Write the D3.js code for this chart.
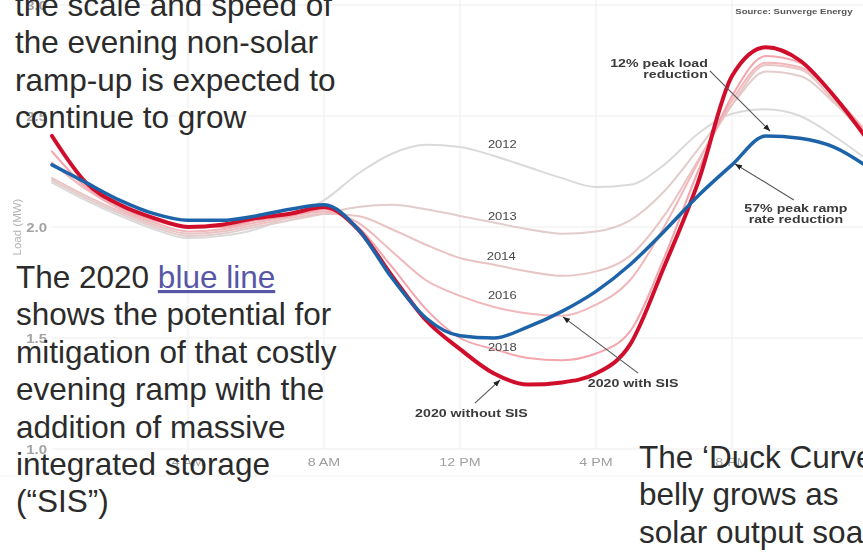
<!DOCTYPE html>
<html>
<head>
<meta charset="utf-8">
<script src="https://cdn.jsdelivr.net/npm/d3@7"></script>
<style>
  html, body { margin: 0; padding: 0; background: #fff; overflow: hidden; }
  svg { display: block; }
</style>
</head>
<body>
<svg id="chart" width="863" height="553"></svg>
<script>
// Hourly net load (MW), midnight to midnight
const hours = d3.range(0, 25);
const load2012 = [2.20, 2.12, 2.05, 1.99, 1.95, 1.96, 1.99, 2.05, 2.12, 2.24, 2.33, 2.37, 2.36, 2.32, 2.27, 2.22, 2.18, 2.19, 2.28, 2.42, 2.51, 2.53, 2.50, 2.41, 2.30];
const load2013 = [2.21, 2.13, 2.06, 2.00, 1.96, 1.97, 2.00, 2.03, 2.06, 2.09, 2.10, 2.08, 2.05, 2.02, 1.99, 1.97, 1.98, 2.03, 2.16, 2.35, 2.55, 2.70, 2.68, 2.56, 2.40];
const load2014 = [2.22, 2.14, 2.07, 2.01, 1.97, 1.98, 2.01, 2.04, 2.06, 2.05, 1.99, 1.92, 1.86, 1.83, 1.80, 1.78, 1.80, 1.87, 2.05, 2.30, 2.55, 2.73, 2.71, 2.57, 2.41];
const load2016 = [2.29, 2.17, 2.08, 2.02, 1.98, 1.99, 2.02, 2.05, 2.07, 2.02, 1.89, 1.76, 1.69, 1.64, 1.61, 1.60, 1.65, 1.76, 2.00, 2.29, 2.57, 2.74, 2.72, 2.59, 2.42];
const load2018 = [2.34, 2.18, 2.09, 2.03, 2.00, 2.00, 2.03, 2.05, 2.08, 2.00, 1.82, 1.63, 1.50, 1.45, 1.41, 1.40, 1.43, 1.53, 1.86, 2.25, 2.59, 2.77, 2.74, 2.59, 2.41];
const load2020 = [2.41, 2.20, 2.10, 2.04, 2.00, 2.01, 2.04, 2.06, 2.09, 1.99, 1.78, 1.58, 1.45, 1.34, 1.29, 1.30, 1.34, 1.47, 1.82, 2.20, 2.68, 2.81, 2.75, 2.59, 2.39];
const load2020SIS = [2.28, 2.20, 2.12, 2.06, 2.03, 2.03, 2.05, 2.08, 2.10, 1.99, 1.77, 1.59, 1.51, 1.50, 1.55, 1.62, 1.71, 1.83, 1.98, 2.14, 2.28, 2.41, 2.40, 2.36, 2.27];

const yTicks = [1.0, 1.5, 2.0, 2.5, 3.0];
const xTicks = [4, 8, 12, 16, 20];
const xTickLabels = ["4 AM", "8 AM", "12 PM", "4 PM", "8 PM"];

// Year labels, anchored in hour / MW space
const yearLabels = ["2012", "2013", "2014", "2016", "2018"];
const yearLabelHour = [12.82, 12.82, 12.79, 12.82, 12.82];
const yearLabelLoad = [2.356, 2.032, 1.851, 1.676, 1.441];

// Callouts: text anchor and leader arrow, in hour / MW space
const callouts = [
  { lines: ["12% peak load", "reduction"], h: 19.29, v: 2.721, anchor: "end", from: [19.35, 2.703], to: [21.12, 2.432] },
  { lines: ["57% peak ramp", "rate reduction"], h: 21.88, v: 2.068, anchor: "middle", from: [21.82, 2.122], to: [20.09, 2.284] },
  { lines: ["2020 with SIS"], h: 15.76, v: 1.279, anchor: "start", from: [17.24, 1.342], to: [15.03, 1.595] },
  { lines: ["2020 without SIS"], h: 10.68, v: 1.144, anchor: "start", from: [12.44, 1.207], to: [13.18, 1.311] }
];

const series = [
  { name: "2012", values: load2012, color: "#dadada", width: 2 },
  { name: "2013", values: load2013, color: "#e2cccc", width: 2 },
  { name: "2014", values: load2014, color: "#e9c4c4", width: 2 },
  { name: "2016", values: load2016, color: "#f1b7ba", width: 2 },
  { name: "2018", values: load2018, color: "#f3a6ad", width: 2 },
  { name: "2020 without SIS", values: load2020, color: "#d0112b", width: 4 },
  { name: "2020 with SIS", values: load2020SIS, color: "#1f64a9", width: 3.5 }
];

const svg = d3.select("#chart");
const W = 863, H = 553;

const x = d3.scaleLinear().domain([0, 24]).range([52, 868]);
const y = d3.scaleLinear().domain([1, 3]).range([449, 5]);

const defs = svg.append("defs");
defs.append("filter").attr("id", "soft")
  .attr("x", "-5%").attr("y", "-5%").attr("width", "110%").attr("height", "110%")
  .append("feGaussianBlur").attr("stdDeviation", 0.55);
defs.append("marker").attr("id", "tip")
  .attr("viewBox", "0 0 10 10").attr("refX", 10).attr("refY", 5)
  .attr("markerWidth", 7).attr("markerHeight", 7)
  .attr("markerUnits", "userSpaceOnUse").attr("orient", "auto")
  .append("path").attr("d", "M0,1 L10,5 L0,9 Z").attr("fill", "#222");

const chart = svg.append("g").attr("filter", "url(#soft)");

// gridlines
chart.append("g").selectAll("line").data(yTicks).join("line")
  .attr("x1", 52).attr("x2", W).attr("y1", d => y(d)).attr("y2", d => y(d))
  .attr("stroke", "#ededed").attr("stroke-width", 1);
chart.append("g").selectAll("line").data(xTicks).join("line")
  .attr("x1", d => x(d)).attr("x2", d => x(d)).attr("y1", 0).attr("y2", y(1))
  .attr("stroke", "#ededed").attr("stroke-width", 1);
chart.append("line").attr("x1", 0).attr("x2", W).attr("y1", 476).attr("y2", 476)
  .attr("stroke", "#f1f1f1");

// axes: tick labels only
const yAxis = d3.axisLeft(y).tickValues(yTicks).tickFormat(d3.format(".1f")).tickSize(0).tickPadding(0);
const gy = chart.append("g").attr("transform", "translate(48,0)").call(yAxis);
gy.select(".domain").remove();
gy.selectAll("text")
  .attr("font-family", "Liberation Sans, Arial, sans-serif")
  .attr("font-size", 12).attr("font-weight", "bold").attr("fill", "#a3a3a3")
  .attr("dy", "0.36em")
  .attr("transform", function() { return null; });
gy.selectAll(".tick text").each(function() {
  const t = d3.select(this);
  t.attr("transform", "scale(1.25,1)").attr("x", -1 / 1.25);
});

const xAxis = d3.axisBottom(x).tickValues(xTicks).tickFormat((d, i) => xTickLabels[i]).tickSize(0).tickPadding(0);
const gx = chart.append("g").attr("transform", "translate(0,458)").call(xAxis);
gx.select(".domain").remove();
gx.selectAll("text")
  .attr("font-family", "Liberation Sans, Arial, sans-serif")
  .attr("font-size", 11).attr("fill", "#a0a0a0")
  .attr("dy", "0.72em")
  .attr("transform", "scale(1.3,1)");
gx.selectAll(".tick").each(function(d) {
  d3.select(this).attr("transform", `translate(${x(d)},0)`);
});

chart.append("text")
  .attr("transform", `translate(17,227) rotate(-90)`)
  .attr("text-anchor", "middle").attr("dy", "0.35em")
  .attr("font-family", "Liberation Sans, Arial, sans-serif")
  .attr("font-size", 11.5).attr("fill", "#b3b3b3")
  .text("Load (MW)");

// load curves
const line = d3.line().x((d, i) => x(hours[i])).y(d => y(d)).curve(d3.curveMonotoneX);
chart.append("g").selectAll("path").data(series).join("path")
  .attr("d", d => line(d.values))
  .attr("fill", "none")
  .attr("stroke", d => d.color)
  .attr("stroke-width", d => d.width)
  .attr("stroke-linejoin", "round").attr("stroke-linecap", "round");

// year labels
chart.append("g").selectAll("text").data(yearLabels).join("text")
  .attr("transform", (d, i) => `translate(${x(yearLabelHour[i])},${y(yearLabelLoad[i])}) scale(1.3,1)`)
  .attr("font-family", "Liberation Sans, Arial, sans-serif")
  .attr("font-size", 10).attr("fill", "#474747")
  .text(d => d);

// callouts
const cg = chart.append("g");
callouts.forEach(c => {
  cg.append("line")
    .attr("x1", x(c.from[0])).attr("y1", y(c.from[1]))
    .attr("x2", x(c.to[0])).attr("y2", y(c.to[1]))
    .attr("stroke", "#555").attr("stroke-width", 1.1)
    .attr("marker-end", "url(#tip)");
  c.lines.forEach((t, k) => {
    cg.append("text")
      .attr("transform", `translate(${x(c.h)},${y(c.v) + k * 11.5}) scale(1.35,1)`)
      .attr("text-anchor", c.anchor)
      .attr("font-family", "Liberation Sans, Arial, sans-serif")
      .attr("font-size", 10.5).attr("font-weight", "bold").attr("fill", "#3a3a3a")
      .text(t);
  });
});

chart.append("text")
  .attr("transform", `translate(${x(21.82)},${y(2.959)}) scale(1.2,1)`)
  .attr("text-anchor", "middle")
  .attr("font-family", "Liberation Sans, Arial, sans-serif")
  .attr("font-size", 8).attr("font-weight", "bold").attr("fill", "#555")
  .text("Source: Sunverge Energy");

// commentary text over the chart
const notesTop = ["the scale and speed of", "the evening non-solar", "ramp-up is expected to", "continue to grow"];
const notesLeft = ["The 2020 ", "shows the potential for", "mitigation of that costly", "evening ramp with the", "addition of massive", "integrated storage", "(“SIS”)"];
const notesRight = ["The ‘Duck Curve’", "belly grows as", "solar output soars"];

const prose = svg.append("g")
  .attr("font-family", "Liberation Sans, Arial, sans-serif")
  .attr("font-size", 31.5).attr("fill", "#2b2b2b");

function block(lines, x0, y0) {
  const t = prose.append("text").attr("x", x0).attr("y", y0);
  lines.forEach((s, i) => {
    t.append("tspan").attr("x", x0).attr("y", y0 + i * 37.4).text(s);
  });
  return t;
}
block(notesTop, 15, 15.8);
const left = block(notesLeft, 16, 288);
left.select("tspan").append("tspan")
  .attr("fill", "#5856a8").style("text-decoration", "underline")
  .text("blue line");
block(notesRight, 639, 468);
</script>
</body>
</html>
